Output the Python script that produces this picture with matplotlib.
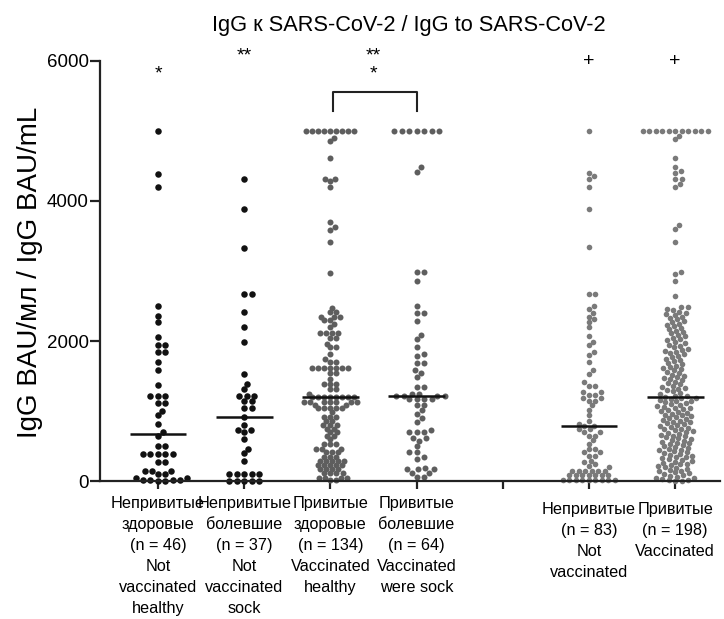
import numpy as np
import matplotlib.pyplot as plt

plt.rcParams['font.family'] = ['Liberation Sans', 'DejaVu Sans']

# group positions on the x axis (5 is an empty gap)
positions = [1, 2, 3, 4, 6, 7]
tick_pos = [1, 2, 3, 4, 5, 6, 7]
tick_labels = [
    "Непривитые\nздоровые\n(n = 46)\nNot\nvaccinated\nhealthy",
    "Непривитые\nболевшие\n(n = 37)\nNot\nvaccinated\nsock",
    "Привитые\nздоровые\n(n = 134)\nVaccinated\nhealthy",
    "Привитые\nболевшие\n(n = 64)\nVaccinated\nwere sock",
    "",
    "Непривитые\n(n = 83)\nNot\nvaccinated",
    "Привитые\n(n = 198)\nVaccinated",
]

# IgG BAU/mL, values (capped at 5000)
unvacc_healthy = [5000, 4390, 4200, 2500, 2360, 2270, 2060, 1950, 1950, 1840, 1840,
                  1700, 1590, 1370, 1210, 1210, 1210, 1120, 1120, 1000, 940, 820,
                  700, 650, 500, 500, 380, 380, 380, 380, 380, 270, 270, 150, 150,
                  150, 100, 100, 50, 50, 20, 20, 10, 10, 0, 0]
unvacc_sick = [4310, 3890, 3330, 2670, 2670, 2420, 2200, 1980, 1530, 1390, 1320,
               1220, 1220, 1220, 1150, 1150, 1040, 1040, 920, 800, 730, 730, 695,
               600, 460, 395, 290, 100, 100, 100, 100, 100, 5, 5, 5, 5, 5]
vacc_healthy = [5000, 5000, 5000, 5000, 5000, 5000, 5000, 5000, 5000, 4900, 4850,
                4610, 4320, 4320, 4280, 4200, 3700, 3630, 3590, 3420, 2970, 2470,
                2410, 2410, 2350, 2350, 2350, 2300, 2300, 2250, 2200, 2110, 2110,
                2110, 2110, 2050, 2050, 1960, 1910, 1910, 1810, 1740, 1700, 1700,
                1620, 1620, 1620, 1620, 1620, 1620, 1620, 1550, 1550, 1460, 1390,
                1390, 1390, 1310, 1310, 1250, 1200, 1200, 1200, 1200, 1200, 1200,
                1200, 1200, 1130, 1130, 1130, 1130, 1130, 1130, 1130, 1090, 1090,
                1040, 1040, 1040, 1040, 1040, 980, 920, 920, 920, 860, 860, 800,
                800, 800, 750, 750, 700, 700, 650, 650, 600, 530, 530, 530, 460,
                460, 460, 410, 410, 410, 350, 350, 350, 290, 290, 290, 290, 290,
                230, 230, 230, 230, 230, 170, 170, 170, 170, 110, 110, 110, 110,
                50, 50, 50, 50, 15, 15]
vacc_sick = [5000, 5000, 5000, 5000, 5000, 5000, 5000, 4480, 4420, 2980, 2980,
             2860, 2500, 2400, 2400, 2290, 2090, 2030, 1910, 1810, 1790, 1680,
             1680, 1580, 1540, 1480, 1350, 1350, 1240, 1240, 1220, 1220, 1220,
             1220, 1170, 1170, 1170, 1170, 1090, 1090, 1010, 960, 900, 850, 730,
             700, 700, 700, 610, 610, 570, 500, 410, 410, 350, 320, 190, 170,
             170, 170, 120, 120, 60, 60]
unvacc_all = [5000, 4400, 4350, 4310, 4200, 3890, 3340, 2670, 2670, 2500, 2460,
              2400, 2350, 2310, 2270, 2200, 2070, 1990, 1940, 1840, 1800, 1700,
              1580, 1530, 1410, 1360, 1360, 1270, 1270, 1230, 1230, 1190, 1190,
              1150, 1150, 1080, 1020, 940, 860, 820, 790, 780, 740, 740, 700,
              700, 650, 650, 580, 530, 460, 460, 410, 410, 360, 360, 290, 270,
              240, 220, 200, 150, 150, 150, 150, 150, 150, 90, 90, 90, 90, 90,
              90, 90, 20, 20, 20, 20, 20, 20, 20, 20, 20]
vacc_all = [5000, 5000, 5000, 5000, 5000, 5000, 5000, 5000, 5000, 5000, 5000,
            4930, 4880, 4610, 4480, 4430, 4400, 4310,
            4310, 4240, 4200, 3650, 3600, 3420, 2990, 2960, 2860, 2640,
            2490, 2480, 2460, 2440, 2420, 2400, 2380, 2370, 2350, 2330, 2310, 2290,
            2270, 2250, 2230, 2210, 2190, 2170, 2150, 2130, 2110, 2090, 2070,
            2050, 2030, 2010, 1990, 1970, 1950, 1930, 1910, 1890, 1870, 1860, 1850,
            1830, 1810, 1790, 1770, 1750, 1730, 1710, 1690, 1670, 1650, 1630,
            1610, 1600, 1580, 1560, 1540, 1520, 1500, 1480, 1470, 1460, 1440, 1420,
            1400, 1380, 1360, 1340, 1330, 1320, 1300, 1280, 1260, 1240, 1220, 1210,
            1200, 1190, 1185, 1172, 1160, 1150, 1138, 1125, 1112, 1100, 1088,
            1075, 1062, 1050, 1036, 1024, 1012, 1000, 988, 975, 962, 950, 938,
            925, 912, 900, 888, 875, 862, 850, 838, 825, 812, 800, 788, 775,
            762, 750, 738, 725, 712, 700, 688, 675, 662, 650, 638, 625, 612,
            600, 588, 575, 562, 550, 538, 525, 512, 500, 488, 475, 462, 450,
            438, 425, 412, 400, 388, 375, 362, 350, 338, 325, 312, 300, 288,
            275, 262, 250, 238, 225, 212, 200, 188, 175, 162, 150, 138, 125,
            112, 100, 88, 75, 62, 50, 38, 25, 15, 10, 5, 0]

groups = [unvacc_healthy, unvacc_sick, vacc_healthy, vacc_sick, unvacc_all, vacc_all]
colors = ['#111111', '#111111', '#5e5e5e', '#5e5e5e', '#7a7a7a', '#7a7a7a']
dot_px = [6.5, 6.5, 6.0, 6.0, 5.6, 5.6]      # drawn dot diameter
gap_px = [7.3, 7.3, 6.0, 7.2, 6.4, 6.2]      # spacing used for the swarm
YSTRETCH = 1.4                               # rows closer than a dot still spread


def swarm(ypix, d):
    """Horizontal offsets in pixels so that dots keep distance d."""
    placed = []
    out = []
    for y in ypix:
        near = [(px, py) for px, py in placed if abs(py - y) * YSTRETCH < d]
        k = 0
        while True:
            cands = [0.0] if k == 0 else [k * 0.5, -k * 0.5]
            hit = None
            for c in cands:
                if all((c - px) ** 2 + ((y - py) * YSTRETCH) ** 2 >= d * d - 1e-6
                       for px, py in near):
                    hit = c
                    break
            if hit is not None:
                break
            k += 1
        placed.append((hit, y))
        out.append(hit)
    return np.array(out)


fig = plt.figure(figsize=(7.24, 6.19), dpi=100)
ax = fig.add_axes([0.1381, 0.2229, 0.8564, 0.6786])
ax.set_xlim(0.327, 7.52)
ax.set_ylim(0, 6000)

ppx = ax.bbox.width / (7.52 - 0.327)
ppy = ax.bbox.height / 6000.0

for pos, vals, col, d, g in zip(positions, groups, colors, dot_px, gap_px):
    v = np.sort(np.array(vals, dtype=float))
    offs = swarm(v * ppy, g)
    ax.scatter(pos + offs / ppx, v, s=(d * 0.72) ** 2, color=col,
               linewidths=0, clip_on=False, zorder=2)
    med = np.median(v)
    ax.hlines(med, pos - 0.33, pos + 0.33, color='#111111', lw=1.8, zorder=3)


def pix2val(y):
    return (481 - y) / 420.0 * 6000


# significance marks
ax.text(1, pix2val(78), "*", ha='center', va='baseline', fontsize=14, clip_on=False)
ax.text(2, pix2val(60), "**", ha='center', va='baseline', fontsize=14, clip_on=False)
ax.text(3.5, pix2val(60), "**", ha='center', va='baseline', fontsize=14, clip_on=False)
ax.text(3.5, pix2val(78), "*", ha='center', va='baseline', fontsize=14, clip_on=False)
ax.text(6, pix2val(66), "+", ha='center', va='baseline', fontsize=14, clip_on=False)
ax.text(7, pix2val(66), "+", ha='center', va='baseline', fontsize=14, clip_on=False)
ax.plot([3.03, 3.03, 4, 4], [pix2val(111), pix2val(92), pix2val(92), pix2val(111)],
        color='#222222', lw=1.5, clip_on=False)

for s in ['top', 'right']:
    ax.spines[s].set_visible(False)
for s in ['left', 'bottom']:
    ax.spines[s].set_linewidth(1.6)
    ax.spines[s].set_color('#222222')

ax.set_yticks([0, 2000, 4000, 6000])
ax.set_yticklabels(['0', '2000', '4000', '6000'])
ax.set_xticks(tick_pos)
ax.set_xticklabels(tick_labels, linespacing=1.5)
ax.tick_params(axis='y', length=7, width=1.6, pad=1, labelsize=13.5, color='#222222')
ax.tick_params(axis='x', length=6, width=1.6, pad=5, labelsize=11.7, color='#222222')
for t in ax.xaxis.get_major_ticks()[5:]:
    t.set_pad(9)

fig.text(0.565, 0.958, "IgG к SARS-CoV-2 / IgG to SARS-CoV-2", ha='center', va='center',
         fontsize=15.7)
fig.text(30 / 724, 1 - 272 / 619, "IgG BAU/мл / IgG BAU/mL", rotation=90,
         ha='center', va='center', fontsize=20)

fig.savefig('out.png', dpi=100)
